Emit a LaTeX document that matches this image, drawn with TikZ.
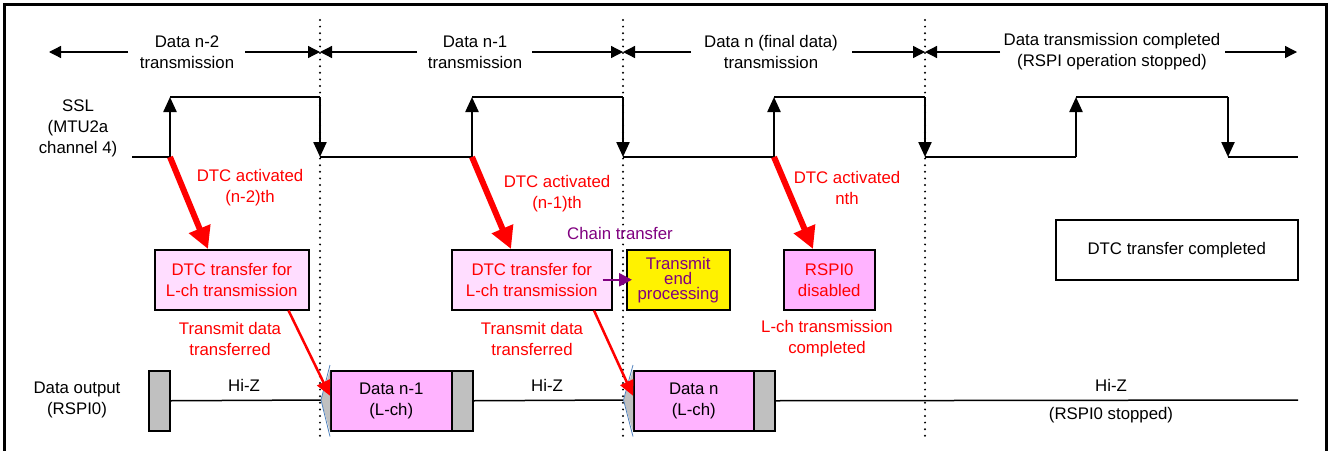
\documentclass[tikz,border=0pt]{standalone}
\usepackage{fontspec}
\setmainfont{Liberation Sans}
\usetikzlibrary{arrows.meta}
\definecolor{lpink}{RGB}{255,221,255}
\definecolor{dpink}{RGB}{255,179,255}
\definecolor{silver}{RGB}{192,192,192}
\definecolor{purp}{RGB}{128,0,128}
\definecolor{edgeblue}{RGB}{79,129,189}
\tikzset{
  frame/.style={line width=3pt},
  dotv/.style={line width=2.2pt, line cap=round, dash pattern=on 0pt off 6.6pt},
  timearrow/.style={line width=1.3pt, -{Triangle[width=12pt,length=12pt]}},
  wave/.style={line width=2.3pt},
  edgearrow/.style={wave, -{Triangle[width=13pt,length=15pt]}},
  lbl/.style={inner sep=0pt, align=center},
  redlbl/.style={lbl, text=red},
  bigred/.style={draw=red, line width=6pt, -{Triangle[width=22pt,length=22pt]}},
  thinred/.style={draw=red, line width=2.5pt, -{Triangle[width=14pt,length=15pt]}},
  purparrow/.style={draw=purp, line width=2.5pt, -{Triangle[width=13pt,length=13pt]}},
  box/.style={draw=black, line width=1.5pt, inner sep=0pt, align=center, anchor=north west},
  graybox/.style={box, fill=silver, minimum width=21, minimum height=60},
  databox/.style={box, fill=dpink, minimum height=60},
  busline/.style={line width=1.5pt},
}
\begin{document}
\begin{tikzpicture}[x=1pt,y=-1pt, font=\fontsize{16.8}{21}\selectfont]
\useasboundingbox (0,0) rectangle (1330,450);
% frame
\draw[frame] (4.5,460) -- (4.5,4.5) -- (1326.5,4.5) -- (1326.5,460);
% dotted separators
\foreach \x/\n in {320/1,623/2,925/3}{
  \coordinate (dt\n) at (\x,20);
  \coordinate (db\n) at (\x,436);
  \draw[dotv] (dt\n) -- (db\n);
}
% top period labels
\node[lbl] (p1) at (187,52) {Data n-2\\transmission};
\node[lbl] (p2) at (475,52) {Data n-1\\transmission};
\node[lbl] (p3) at (771,52) {Data n (final data)\\transmission};
\node[lbl] (p4) at (1112,52) {Data transmission completed\\(RSPI operation stopped)};
\coordinate (a1l) at (128,52); \coordinate (a1le) at (49,52);
\coordinate (a1r) at (245,52); \coordinate (m1) at (320,52);
\coordinate (a2l) at (417,52); \coordinate (a2r) at (532,52); \coordinate (m2) at (623,52);
\coordinate (a3l) at (691,52); \coordinate (a3r) at (852,52); \coordinate (m3) at (925,52);
\coordinate (a4l) at (1000,52); \coordinate (a4r) at (1225,52); \coordinate (a4re) at (1297,52);
\draw[timearrow] (a1l) -- (a1le);
\draw[timearrow] (a1r) -- (m1);
\draw[timearrow] (a2l) -- (m1);
\draw[timearrow] (a2r) -- (m2);
\draw[timearrow] (a3l) -- (m2);
\draw[timearrow] (a3r) -- (m3);
\draw[timearrow] (a4l) -- (m3);
\draw[timearrow] (a4r) -- (a4re);
% SSL
\node[lbl] (ssl) at (78,128) {\fontsize{16.8}{20}\selectfont SSL\\(MTU2a\\channel 4)};
\coordinate (w0) at (132,157);
\coordinate (r1) at (170,157); \coordinate (h1) at (170,97);
\coordinate (f1) at (320,97);  \coordinate (l1) at (320,157);
\coordinate (r2) at (472,157); \coordinate (h2) at (472,97);
\coordinate (f2) at (623,97);  \coordinate (l2) at (623,157);
\coordinate (r3) at (774,157); \coordinate (h3) at (774,97);
\coordinate (f3) at (925,97);  \coordinate (l3) at (925,157);
\coordinate (r4) at (1076,157); \coordinate (h4) at (1076,97);
\coordinate (f4) at (1228,97);  \coordinate (l4) at (1228,157);
\coordinate (wend) at (1298,157);
\draw[wave] (w0) -- (r1) (h1) -- (f1) (l1) -- (r2) (h2) -- (f2) (l2) -- (r3) (h3) -- (f3) (l3) -- (r4) (h4) -- (f4) (l4) -- (wend);
\draw[edgearrow] (r1) -- (h1);
\draw[edgearrow] (f1) -- (l1);
\draw[edgearrow] (r2) -- (h2);
\draw[edgearrow] (f2) -- (l2);
\draw[edgearrow] (r3) -- (h3);
\draw[edgearrow] (f3) -- (l3);
\draw[edgearrow] (r4) -- (h4);
\draw[edgearrow] (f4) -- (l4);
% red labels
\node[redlbl] (act1) at (250,188) {DTC activated\\(n-2)th};
\node[redlbl] (act2) at (557,194) {DTC activated\\(n-1)th};
\node[redlbl] (act3) at (847,188) {DTC activated\\nth};
\node[lbl, text=purp] (chain) at (620,233) {Chain transfer};
% boxes
\node[box, fill=lpink, text=red, minimum width=154, minimum height=60] (b1) at (154,249) {DTC transfer for\\L-ch transmission};
\node[box, fill=lpink, text=red, minimum width=160, minimum height=60] (b2) at (451,249) {DTC transfer for\\L-ch transmission};
\node[box, fill=yellow, text=purp, minimum width=103, minimum height=60, font=\fontsize{16.8}{15}\selectfont] (b3) at (626,249) {Transmit\\end\\processing};
\node[box, fill=dpink, text=red, minimum width=91, minimum height=60] (b4) at (783,249) {RSPI0\\disabled};
\node[box, fill=white, minimum width=242, minimum height=60] (b5) at (1055,219) {DTC transfer completed};
% red activation arrows
\draw[bigred] (r1) -- ([xshift=54]b1.north west);
\draw[bigred] (r2) -- ([xshift=60]b2.north west);
\draw[bigred] (r3) -- ([xshift=30]b4.north west);
% chain arrow
\draw[purparrow] ([xshift=-10]b2.east) -- ([xshift=6]b3.west);
% lower red labels
\node[redlbl] (tx1) at (230,339) {Transmit data\\transferred};
\node[redlbl] (tx2) at (532,339) {Transmit data\\transferred};
\node[redlbl] (done) at (827,339) {L-ch transmission\\completed};
% data output row
\node[lbl] (dout) at (77,400) {Data output\\(RSPI0)};
\node[graybox] (g1) at (148,370) {};
\node[databox, minimum width=121] (d1) at (330,370) {Data n-1\\(L-ch)};
\node[graybox] (g2) at (451,370) {};
\node[databox, minimum width=120] (d2) at (633,370) {Data n\\(L-ch)};
\node[graybox] (g3) at (753,370) {};
\coordinate (t1) at (321,400);
\coordinate (t2) at (623.5,400);
\coordinate (lineend) at (1298,400);
\draw[busline] (g1.east) -- (t1);
\draw[busline] (g2.east) -- (t2);
\draw[busline] (g3.east) -- (lineend);
\fill[silver] (t1) -- (d1.north west) -- (d1.south west) -- cycle;
\draw[edgeblue, line width=0.8pt] ([yshift=5]d1.north west) -- (t1) -- ([yshift=-5]d1.south west);
\fill[silver] (t2) -- (d2.north west) -- (d2.south west) -- cycle;
\draw[edgeblue, line width=0.8pt] ([yshift=5]d2.north west) -- (t2) -- ([yshift=-5]d2.south west);
\node[lbl] (hz1) at (244,385) {Hi-Z};
\node[lbl] (hz2) at (547,385) {Hi-Z};
\node[lbl] (hz3) at (1111,385) {Hi-Z};
\node[lbl] (stop) at (1111,415) {(RSPI0 stopped)};
% transfer arrows
\draw[thinred] ([xshift=-21]b1.south east) -- ([yshift=5]d1.west);
\draw[thinred] ([xshift=143]b2.south west) -- ([yshift=5]d2.west);
\end{tikzpicture}
\end{document}
